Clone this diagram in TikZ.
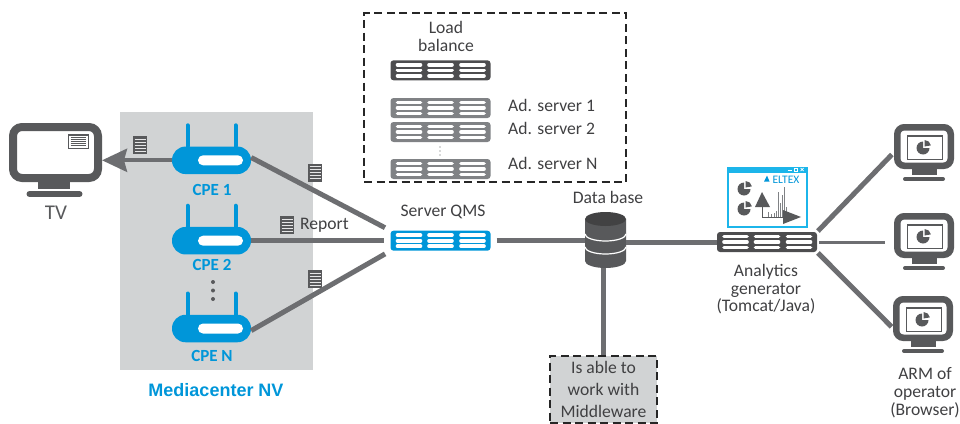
\documentclass[tikz,border=0pt]{standalone}
\usepackage{fontspec}
\setmainfont{Carlito}
\newfontfamily\headfont{Liberation Sans}
\usetikzlibrary{positioning, arrows.meta}
\definecolor{wiregray}{HTML}{6D6E71}
\definecolor{darkgray}{HTML}{58595B}
\definecolor{rackdark}{HTML}{4D4D4F}
\definecolor{rackgray}{HTML}{808285}
\definecolor{panelgray}{HTML}{D1D3D4}
\definecolor{eltexblue}{HTML}{0096D9}
\definecolor{skyblue}{HTML}{1CB5EA}
\definecolor{textgray}{HTML}{404042}
\tikzset{
    lbl/.style = {text=textgray, align=center, inner sep=0pt, font=\fontsize{17.6}{18}\selectfont},
    cpelbl/.style = {text=eltexblue, inner sep=0pt, font=\fontsize{17}{18}\selectfont\bfseries},
    wire/.style = {draw=wiregray, line width=5pt},
    dashbox/.style = {draw=black!85, line width=1.5pt, dash pattern=on 8pt off 4.5pt},
    pics/rack/.style = {code={
        \node[fill=#1, rounded corners=3pt, minimum width=100pt, minimum height=20pt, inner sep=0pt] (-body) {};
        \foreach \px in {-31.5,0,32}
            \foreach \py in {-5.5,0,5.5}
                \draw[white, line width=3.6pt, line cap=round] (\px-11.5,\py) -- (\px+11.5,\py);
    }},
    pics/cpe/.style = {code={
        \draw[eltexblue, line width=4pt, line cap=round] (-24,-14) -- (-24,-35);
        \draw[eltexblue, line width=4pt, line cap=round] (24,-14) -- (24,-35);
        \node[fill=eltexblue, rounded corners=13.5pt, minimum width=79pt, minimum height=27.5pt, inner sep=0pt] (-body) {};
        \fill[white, rounded corners=5pt] (-13.5,-5) rectangle (31.5,5);
    }},
    pics/doc/.style = {code={
        \fill[darkgray] (-7,-9) rectangle (7,9);
        \foreach \py in {-6,-3,0,3,6}
            \draw[white!85!darkgray, line width=1pt] (-5.5,\py) -- (5.5,\py);
    }},
    pics/pie/.style = {code={
        \fill[darkgray] (0,0) -- (0:#1) arc[start angle=0, end angle=-270, radius=#1] -- cycle;
        \fill[darkgray] (1.5,-1.5) -- ++(90:#1) arc[start angle=90, end angle=10, radius=#1] -- cycle;
    }},
    pics/monitor/.style = {code={
        \node[draw=darkgray, fill=white, line width=6.5pt, rounded corners=7pt, minimum width=53.5pt, minimum height=38.5pt, inner sep=0pt] (-body) {};
        \fill[darkgray] (-12,22) rectangle (13,28);
        \draw[darkgray, line width=4pt, line cap=round] (-19,32.5) -- (19,32.5);
        \draw[darkgray, fill=white, line width=.8pt] (-17,-11.5) rectangle (18,13);
        \fill[darkgray] (-17,-11.5) rectangle (18,-9.5);
        \pic at (-1,1.5) {pie=6.5pt};
    }},
    pics/tv/.style = {code={
        \node[draw=darkgray, fill=white, line width=8pt, rounded corners=9pt, minimum width=85pt, minimum height=51pt, inner sep=0pt] (-body) {};
        \fill[darkgray] (-17.5,29) rectangle (14.5,36);
        \draw[darkgray, line width=6pt, line cap=round] (-26,41.5) -- (24,41.5);
        \draw[darkgray, fill=white, line width=.6pt] (13,-18.5) rectangle (32.5,-4.5);
        \fill[darkgray] (13,-18.5) rectangle (32.5,-17);
        \foreach \py in {-15,-13,-11,-9,-7}
            \draw[darkgray, line width=.6pt] (15,\py) -- (30.5,\py);
    }},
    pics/dbase/.style = {code={
        \node[minimum width=41pt, minimum height=56pt, inner sep=0pt] (-body) {};
        \fill[darkgray] (-20.5,-21) -- (-20.5,21) arc[start angle=180, end angle=360, x radius=20.5pt, y radius=7pt] -- (20.5,-21) -- cycle;
        \fill[rackdark!85!black] (0,-21) ellipse[x radius=20.5pt, y radius=7pt];
        \draw[white, line width=1.2pt] (-20.5,-6) arc[start angle=180, end angle=360, x radius=20.5pt, y radius=7pt];
        \draw[white, line width=1.2pt] (-20.5,7) arc[start angle=180, end angle=360, x radius=20.5pt, y radius=7pt];
    }},
    pics/chartwin/.style = {code={
        \node[draw=skyblue, fill=white, line width=2pt, minimum width=79pt, minimum height=59pt, inner sep=0pt] (-body) {};
        \fill[skyblue] (-40,-30.5) rectangle (40,-25);
        \draw[white, line width=.8pt] (20,-27) -- (24,-27);
        \draw[white, line width=.6pt] (27,-29.5) rectangle (30,-26.5);
        \draw[white, line width=.7pt] (33,-29.5) -- (36,-26.5) (33,-26.5) -- (36,-29.5);
        \fill[eltexblue] (-3.5,-16) -- (-0.5,-22) -- (2,-16) -- cycle;
        \node[text=eltexblue, inner sep=0pt, font=\fontsize{11.5}{12}\selectfont] (-logo) at (18.5,-18) {ELTEX};
        \pic at (-23.5,-8.5) {pie=6.5pt};
        \pic at (-23.5,11.5) {pie=6.5pt};
        \foreach \bx/\bh in {1/5,4/3,7/4,9/6,11/25,13/14,15/22,17/30,19/10}
            \draw[rackgray, line width=.8pt] (\bx,19.5) -- (\bx,19.5-\bh);
        \draw[darkgray, line width=.8pt] (-5.5,0) -- (-5.5,19.5) -- (20,19.5);
        \fill[darkgray] (-5.5,-5.5) -- (-12.5,9.5) -- (2.5,9.5) -- cycle;
        \fill[darkgray] (33.5,19.5) -- (15.5,12.5) -- (15.5,26.5) -- cycle;
    }},
}
\begin{document}
\begin{tikzpicture}[x=1pt, y=-1pt]
    \useasboundingbox (0,0) rectangle (960,423);
    \fill[panelgray] (120,112) rectangle (313,370);

    \pic (tv) at (55.5,152.5) {tv};
    \node[lbl, text=darkgray, font=\fontsize{21}{22}\selectfont] (tvlabel) at (56,213) {TV};

    \pic (cpe1) at (211.5,160.3) {cpe};
    \pic (cpe2) at (211.5,240.7) {cpe};
    \pic (cpeN) at (211.5,328.5) {cpe};
    \node[cpelbl] (cpe1label) at (212,189.5) {CPE 1};
    \node[cpelbl] (cpe2label) at (212,265) {CPE 2};
    \node[cpelbl] (cpeNlabel) at (212,356) {CPE N};
    \fill[darkgray] (213,282) circle (2pt) (213,290.5) circle (2pt) (213,299) circle (2pt);
    \node[text=eltexblue, inner sep=0pt, font=\headfont\fontsize{18}{20}\selectfont\bfseries] (nvlabel) at (216,390) {Mediacenter NV};

    \pic at (140,145) {doc};
    \pic at (315,172.5) {doc};
    \pic at (287,225) {doc};
    \pic at (315,279) {doc};
    \node[lbl, anchor=west] (reportlabel) at (300,225) {Report};

    \node[dashbox, minimum width=262pt, minimum height=169pt] (lbbox) at (495,97.5) {};
    \node[lbl] (lblabel) at (446,36) {Load\\balance};
    \pic (lb) at (440.5,70.3) {rack=rackdark};
    \pic (ad1) at (440.5,108) {rack=rackgray};
    \pic (ad2) at (440.5,132) {rack=rackgray};
    \pic (adN) at (440.5,169) {rack=rackgray};
    \fill[darkgray] (440,147) circle (.6pt) (440,151) circle (.6pt) (440,155) circle (.6pt);
    \node[lbl, anchor=west] (ad1label) at (508,105) {Ad. server 1};
    \node[lbl, anchor=west] (ad2label) at (508,128) {Ad. server 2};
    \node[lbl, anchor=west] (adNlabel) at (508,163) {Ad. server N};

    \node[lbl] (qmslabel) at (443,212) {Server QMS};
    \pic (qms) at (440.5,240.7) {rack=eltexblue};
    \node[lbl] (dblabel) at (608,197) {Data base};
    \pic (db) at (605.5,240) {dbase};
    \node[lbl, dashbox, text=textgray, fill=panelgray, minimum width=107pt, minimum height=67pt, font=\fontsize{17.6}{22}\selectfont] (mw) at (603.5,389.5) {Is able to\\work with\\Middleware};

    \pic (gen) at (767,242) {rack=rackdark};
    \pic (chart) at (767.5,197.5) {chartwin};
    \node[lbl, font=\fontsize{17.6}{17.5}\selectfont] (genlabel) at (766,289.5) {Analytics\\generator\\(Tomcat/Java)};

    \pic (arm1) at (924,146.5) {monitor};
    \pic (arm2) at (924,235.5) {monitor};
    \pic (arm3) at (923,318.5) {monitor};
    \node[lbl] (armlabel) at (925,393) {ARM of\\operator\\(Browser)};

    \draw[wire, line width=4pt, -{Stealth[length=25pt, width=23pt, inset=3pt]}] (cpe1-body.west) -- (tv-body.east |- cpe1-body.west);
    \draw[wire, shorten >=6pt] (cpe1-body.4) -- (qms-body.north west);
    \draw[wire, shorten >=6pt] (cpe2-body.east) -- (qms-body.west);
    \draw[wire, shorten >=6pt] (cpeN-body.-3) -- (qms-body.south west);
    \draw[wire, shorten <=6pt] (qms-body.east) -- (qms-body.east -| db-body.west);
    \draw[wire] (gen-body.west -| db-body.east) -- (gen-body.west);
    \draw[wire] (mw.north |- db-body.south) -- (mw.north);
    \draw[wire, shorten >=3pt, shorten <=1pt] (gen-body.north east) -- (arm1-body.191);
    \draw[wire, line width=3pt, shorten <=2pt, shorten >=9pt] (gen-body.east) -- (gen-body.east -| arm2-body.west);
    \draw[wire, shorten >=2pt, shorten <=1pt] (gen-body.south east) -- (arm3-body.198);
\end{tikzpicture}
\end{document}
